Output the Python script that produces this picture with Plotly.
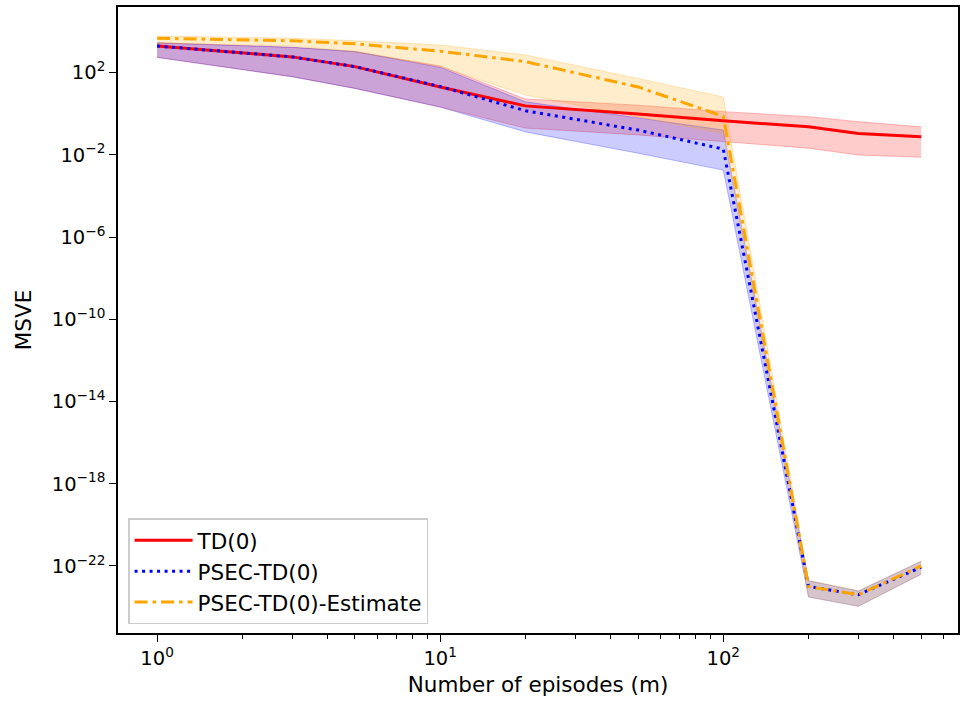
import plotly.graph_objects as go

# ---- data ----
episodes = [1, 3, 5, 10, 20, 50, 100, 200, 300, 500]

td_mean  = [1.95e3, 5.8e2, 1.95e2, 2.0e1, 2.4, 0.98, 0.45, 0.23, 0.11, 0.076]
td_upper = [2.8e3, 1.7e3, 1.05e3, 2.1e2, 5.2, 2.6, 1.26, 0.72, 0.41, 0.23]
td_lower = [5.5e2, 63, 17, 2.1, 0.2, 0.093, 0.044, 0.021, 0.0098, 0.0076]

psec_mean  = [1.95e3, 5.8e2, 1.95e2, 21, 1.4, 0.16, 0.019, 1.0e-23, 4.0e-24, 8.7e-23]
psec_upper = [2.8e3, 1.7e3, 1.05e3, 1.8e2, 3.8, 0.6, 0.16, 1.9e-23, 6.0e-24, 1.7e-22]
psec_lower = [5.5e2, 63, 17, 2.1, 0.13, 0.012, 0.0018, 3.1e-24, 1.1e-24, 4.0e-23]

est_mean  = [4.7e3, 3.5e3, 2.5e3, 1.1e3, 3.4e2, 20, 0.75, 1.0e-23, 4.0e-24, 1.0e-22]
est_upper = [6.0e3, 4.7e3, 3.5e3, 2.2e3, 7.2e2, 52, 6.5, 2.0e-23, 6.3e-24, 1.7e-22]
est_lower = [2.8e3, 1.95e3, 1.05e3, 1.95e2, 8.1, 0.72, 0.11, 3.2e-24, 1.1e-24, 4.0e-23]

series_names = ["TD(0)", "PSEC-TD(0)", "PSEC-TD(0)-Estimate"]

y_tick_vals = [1e2, 1e-2, 1e-6, 1e-10, 1e-14, 1e-18, 1e-22]
y_tick_text = ["10<sup>2</sup>", "10<sup>−2</sup>", "10<sup>−6</sup>", "10<sup>−10</sup>",
               "10<sup>−14</sup>", "10<sup>−18</sup>", "10<sup>−22</sup>"]
x_tick_vals = [1, 10, 100]
x_tick_text = ["10<sup>0</sup>", "10<sup>1</sup>", "10<sup>2</sup>"]
x_minor_vals = [2, 3, 4, 5, 6, 7, 8, 9, 20, 30, 40, 50, 60, 70, 80, 90,
                200, 300, 400, 500, 600, 700, 800, 900]

FONT = "DejaVu Sans"

fig = go.Figure()

bands = [
    (td_lower, td_upper, "rgba(255,0,0,0.2)", "rgba(255,0,0,0.25)"),
    (psec_lower, psec_upper, "rgba(0,0,255,0.2)", "rgba(0,0,255,0.25)"),
    (est_lower, est_upper, "rgba(255,165,0,0.2)", "rgba(255,165,0,0.25)"),
]
for lo, hi, fillc, edgec in bands:
    fig.add_trace(go.Scatter(x=episodes, y=lo, mode="lines",
                             line=dict(color=edgec, width=1),
                             showlegend=False, hoverinfo="skip"))
    fig.add_trace(go.Scatter(x=episodes, y=hi, mode="lines", fill="tonexty",
                             fillcolor=fillc, line=dict(color=edgec, width=1),
                             showlegend=False, hoverinfo="skip"))

fig.add_trace(go.Scatter(x=episodes, y=td_mean, mode="lines", name=series_names[0],
                         line=dict(color="#ff0000", width=3)))
fig.add_trace(go.Scatter(x=episodes, y=psec_mean, mode="lines", name=series_names[1],
                         line=dict(color="#0000ff", width=3, dash="3px,4.5px")))
fig.add_trace(go.Scatter(x=episodes, y=est_mean, mode="lines", name=series_names[2],
                         line=dict(color="#ffa500", width=3, dash="13px,5px,3.5px,5px")))

fig.update_layout(
    width=961, height=703,
    margin=dict(l=118, r=1, t=7, b=70),
    paper_bgcolor="white", plot_bgcolor="white",
    font=dict(family=FONT, size=19, color="black"),
    showlegend=True,
    legend=dict(x=0.012, y=0.014, xanchor="left", yanchor="bottom",
                traceorder="normal",
                bgcolor="rgba(255,255,255,0.8)", bordercolor="#cccccc", borderwidth=1.5,
                font=dict(family=FONT, size=21.5), itemwidth=58, tracegroupgap=0),
)
fig.update_xaxes(
    type="log", range=[-0.138, 2.829],
    tickmode="array", tickvals=x_tick_vals, ticktext=x_tick_text,
    ticks="outside", ticklen=7, tickwidth=1.2, tickcolor="black",
    minor=dict(tickvals=x_minor_vals, ticks="outside", ticklen=4, tickwidth=1, tickcolor="black", showgrid=False),
    showgrid=False, zeroline=False,
    showline=True, linecolor="black", linewidth=1.5, mirror=True,
    tickfont=dict(family=FONT, size=19.5),
    title=dict(text="Number of episodes (m)", font=dict(family=FONT, size=21.5), standoff=8),
)
fig.update_yaxes(
    type="log", range=[-25.26, 5.19],
    tickmode="array", tickvals=y_tick_vals, ticktext=y_tick_text,
    ticks="outside", ticklen=7, tickwidth=1.2, tickcolor="black",
    showgrid=False, zeroline=False,
    showline=True, linecolor="black", linewidth=1.5, mirror=True,
    tickfont=dict(family=FONT, size=19.5),
    title=dict(text="MSVE", font=dict(family=FONT, size=21.5), standoff=14),
)

fig.write_html("out.html", config={"displayModeBar": False},
               post_script="document.body.style.margin='0';")
